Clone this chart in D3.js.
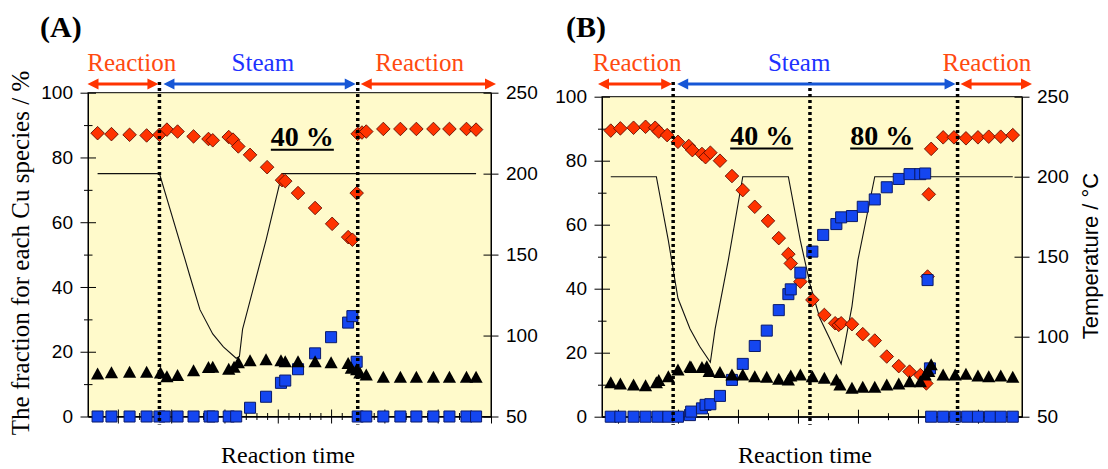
<!DOCTYPE html>
<html>
<head>
<meta charset="utf-8">
<script src="https://cdn.jsdelivr.net/npm/d3@7"></script>
<style>
    body { margin: 0; background: #fff; }
    svg { display: block; }
    .serif { font-family: "Liberation Serif", "Times New Roman", serif; }
    .sans { font-family: "Liberation Sans", Arial, sans-serif; }
</style>
</head>
<body>
<div id="chart"></div>
<script>
// ---- values ----
// x = reaction time (arbitrary units, one minor tick of panel A = 1)
// left axis: fraction of each Cu species / %, right axis: temperature / degC

const diamondA = [[-1.9,87.5],[-0.6,87.2],[1.1,87.0],[2.7,86.8],[3.9,87.0],[4.6,88.6],[5.6,88.0],[7.1,86.5],[8.5,85.7],
    [8.9,85.3],[10.4,86.3],[10.8,85.5],[11.3,83.4],[12.4,80.8],[14.0,77.0],[15.4,73.0],[15.7,72.7],[16.9,69.0],
    [18.5,64.4],[20.1,59.5],[21.6,55.4],[22.0,54.6],[22.4,69.0],[22.5,87.3],[22.9,87.7],[23.3,88.0],[24.9,88.8],
    [26.5,88.8],[28.0,88.8],[29.6,88.8],[31.1,88.8],[32.7,88.8],[33.6,88.6]];
const squareA = [[-1.9,0],[-0.6,0],[1.1,0],[2.7,0],[3.9,0],[4.4,0],[5.6,0],[7.1,0],[8.6,0],[8.9,0],[10.4,0],[11.1,0],
    [12.4,2.7],[13.9,6.1],[15.3,10.4],[15.7,11.1],[16.9,14.6],[18.5,19.5],[20.0,24.5],[21.6,29.0],[22.0,31.0],
    [22.4,16.9],[22.5,0],[23.3,0],[24.9,0],[26.5,0],[28.0,0],[29.6,0],[31.1,0],[32.7,0],[33.6,0]];
const triangleA = [[-1.9,13.1],[-0.6,13.5],[1.1,13.7],[2.7,13.7],[4.0,13.4],[4.6,12.3],[5.6,12.7],[7.1,14.1],[8.5,15.1],
    [8.9,15.2],[10.4,14.6],[10.9,15.2],[11.3,16.6],[12.4,17.2],[13.9,17.5],[15.3,17.2],[15.7,16.9],[16.9,16.9],
    [18.5,16.9],[20.0,16.6],[21.6,16.4],[21.9,14.9],[22.4,14.4],[22.7,13.4],[23.3,12.8],[24.9,12.1],[26.5,12.1],
    [28.0,12.1],[29.6,12.1],[31.1,12.1],[32.7,12.1],[33.6,12.1]];
const tempA = [[-1.9,200],[3.9,200],[6.3,147],[6.7,138],[7.7,116],[8.9,101],[9.9,93],[11.1,86],[11.4,87],[11.7,104],
    [13.9,159],[15.4,200],[33.6,200]];
const dottedA = [3.9, 22.5];
const phaseBreaksA = [3.9, 22.5];

const diamondB = [[-0.6,89.4],[0.2,90.1],[1.3,90.3],[2.3,90.6],[3.1,90.3],[3.4,89.1],[4.1,88.0],[5.0,85.9],[5.9,84.6],
    [6.2,83.3],[7.0,82.1],[7.3,81.1],[7.7,82.5],[8.5,80.0],[9.5,75.2],[10.4,70.8],[11.4,65.6],[12.5,61.2],[13.4,55.8],
    [14.2,50.8],[14.4,47.9],[15.2,42.2],[16.2,36.5],[17.2,31.8],[18.1,29.2],[18.4,28.7],[18.6,29.2],[19.5,28.9],
    [20.4,25.8],[21.4,23.8],[22.4,18.8],[23.4,15.8],[24.3,14.1],[25.2,13.0],[25.7,10.4],[25.8,43.8],[25.9,69.5],
    [26.1,83.7],[27.1,87.3],[28.0,87.3],[29.0,87.0],[30.0,87.3],[30.9,87.5],[31.9,87.5],[32.9,88.0]];
const squareB = [[-0.6,0],[0.2,0],[1.3,0],[2.3,0],[3.3,0],[4.2,0],[5.0,0],[6.0,0.5],[6.1,1.6],[7.0,2.6],[7.3,3.7],
    [7.7,3.9],[8.5,6.5],[9.5,11.5],[10.4,16.5],[11.4,22.1],[12.4,26.9],[13.4,33.3],[14.2,38.3],[14.4,39.8],[15.2,45.0],
    [16.2,51.6],[17.1,56.8],[18.2,60.2],[18.6,62.3],[19.5,62.7],[20.4,65.6],[21.4,67.9],[22.4,71.7],[23.4,74.3],
    [24.3,75.8],[25.2,75.8],[25.6,76.0],[25.8,42.7],[26.0,15.1],[26.1,0],[27.1,0],[28.1,0],[29.1,0],[30.0,0],
    [31.0,0],[31.9,0],[32.9,0]];
const triangleB = [[-0.6,10.6],[0.2,10.2],[1.3,9.9],[2.3,9.7],[3.2,10.6],[3.4,11.3],[4.2,12.5],[5.0,14.6],[6.0,15.6],
    [6.1,15.4],[7.0,15.4],[7.4,15.6],[7.6,14.1],[8.5,13.8],[9.5,13.0],[10.4,13.0],[11.4,12.5],[12.4,12.3],[13.4,11.7],
    [14.2,11.5],[14.4,12.7],[15.2,13.0],[16.2,12.5],[17.2,12.0],[18.2,11.5],[18.5,9.9],[19.5,8.9],[20.4,9.2],[21.4,9.2],
    [22.4,9.9],[23.4,10.2],[24.3,10.9],[25.2,10.9],[25.6,13.0],[25.9,14.1],[26.1,16.2],[27.1,13.0],[28.1,13.0],
    [29.0,13.3],[30.0,12.7],[30.9,12.5],[31.9,12.7],[32.9,12.3]];
const tempB = [[-0.6,200],[3.2,200],[4.2,160],[5.0,124],[6.0,105],[6.8,94],[7.7,84],[8.1,105],[9.2,148],[10.4,200],
    [14.2,200],[15.2,160],[16.0,133],[16.8,112],[17.7,98],[18.6,83],[19.5,119],[20.0,148],[21.4,200],[32.9,200]];
const dottedB = [4.6, 16.0, 28.3];
const phaseBreaksB = [4.6, 28.3];

const phaseNames = ["Reaction", "Steam", "Reaction"];
const phaseLabelXA = [1.3, 13.6, 28.3];
const phaseLabelXB = [1.6, 15.1, 30.75];
const notesA = [{text: "40 %", x: 14.35, y: 83.5}];
const notesB = [{text: "40 %", x: 9.35, y: 84.9}, {text: "80 %", x: 19.35, y: 84.9}];

const leftMajor = [0, 20, 40, 60, 80, 100];
const leftMinor = [10, 30, 50, 70, 90];
const rightTicks = [50, 100, 150, 200, 250];

// colours
const RED = "#FF3300", BLUE = "#1446F0", ARROW_BLUE = "#1656D6", TXT_RED = "#FF4A10", TXT_BLUE = "#1E32FF";

const svg = d3.select("#chart").append("svg")
    .attr("width", 1108)
    .attr("height", 469);

class PanelVis {
    constructor(_svg, _cfg) {
        this.svg = _svg;
        this.cfg = _cfg;
        this.initVis();
    }

    initVis() {
        let vis = this, c = vis.cfg;

        vis.x = d3.scaleLinear().domain(c.xDomain).range([c.left, c.right]);
        vis.yL = d3.scaleLinear().domain([0, 100]).range([c.bottom, c.top]);
        vis.yR = d3.scaleLinear().domain([50, 250]).range([c.bottom, c.top]);

        vis.g = vis.svg.append("g");

        // yellow plot area
        vis.g.append("rect")
            .attr("x", c.left).attr("y", c.top)
            .attr("width", c.right - c.left).attr("height", c.bottom - c.top)
            .attr("fill", "#FFFACB")
            .attr("stroke", "#000")
            .attr("stroke-width", 1);

        vis.drawAxes();
        vis.drawSeries();
        vis.drawPhases();
        vis.drawNotes();
    }

    drawAxes() {
        let vis = this, c = vis.cfg;

        let styleAxis = (g) => {
            g.select(".domain").attr("stroke", "#000");
            g.selectAll(".tick line").attr("stroke", "#000").attr("stroke-width", 1);
            g.selectAll(".tick text")
                .attr("class", "sans")
                .attr("font-size", 19)
                .attr("fill", "#000");
        };

        // x axis: major + minor ticks, no labels
        let xMajor = d3.range(0, c.xDomain[1] + 0.01, c.xMajor);
        let xMinor = d3.range(Math.ceil(c.xDomain[0] / c.xMinor) * c.xMinor, c.xDomain[1], c.xMinor)
            .filter(v => !xMajor.some(m => Math.abs(m - v) < 1e-6));

        let xMinorG = vis.g.append("g")
            .attr("transform", `translate(0,${c.bottom})`)
            .call(d3.axisBottom(vis.x).tickValues(xMinor).tickFormat("").tickSize(3.5).tickSizeOuter(0));
        styleAxis(xMinorG);
        xMinorG.selectAll(".tick line").attr("y1", -3.5);

        let xMajorG = vis.g.append("g")
            .attr("transform", `translate(0,${c.bottom})`)
            .call(d3.axisBottom(vis.x).tickValues(xMajor).tickFormat("").tickSize(7).tickSizeOuter(0));
        styleAxis(xMajorG);
        xMajorG.selectAll(".tick line").attr("y1", -7);

        // left axis
        let lMinor = vis.g.append("g")
            .attr("transform", `translate(${c.left},0)`)
            .call(d3.axisLeft(vis.yL).tickValues(leftMinor).tickFormat("").tickSize(4).tickSizeOuter(0));
        styleAxis(lMinor);
        lMinor.selectAll(".tick line").attr("x1", 4.5);

        let lMajor = vis.g.append("g")
            .attr("transform", `translate(${c.left},0)`)
            .call(d3.axisLeft(vis.yL).tickValues(leftMajor).tickSize(7.5).tickPadding(7.5).tickSizeOuter(0));
        styleAxis(lMajor);
        lMajor.selectAll(".tick line").attr("x1", 8);

        // right axis (temperature)
        let rAx = vis.g.append("g")
            .attr("transform", `translate(${c.right},0)`)
            .call(d3.axisRight(vis.yR).tickValues(rightTicks).tickSize(7.5).tickPadding(7.5).tickSizeOuter(0));
        styleAxis(rAx);
        rAx.selectAll(".tick line").attr("x1", -7.5);
    }

    drawSeries() {
        let vis = this, c = vis.cfg;

        // temperature on the secondary axis
        let line = d3.line()
            .x(d => vis.x(d[0]))
            .y(d => vis.yR(d[1]));

        vis.g.append("path")
            .datum(c.temp)
            .attr("d", line)
            .attr("fill", "none")
            .attr("stroke", "#111")
            .attr("stroke-width", 1.1);

        let diamond = d3.symbol().type(d3.symbolSquare).size(92);
        let square = d3.symbol().type(d3.symbolSquare).size(122);
        let tri = d3.symbol().type({
            draw(ctx) {
                ctx.moveTo(0, -6.5);
                ctx.lineTo(6.6, 5.5);
                ctx.lineTo(-6.6, 5.5);
                ctx.closePath();
            }
        });

        vis.g.append("g").selectAll("path")
            .data(c.diamond)
            .enter().append("path")
            .attr("d", diamond)
            .attr("transform", d => `translate(${vis.x(d[0])},${vis.yL(d[1])}) rotate(45)`)
            .attr("fill", RED)
            .attr("stroke", "#5a0a00")
            .attr("stroke-width", 0.8);

        vis.g.append("g").selectAll("path")
            .data(c.square)
            .enter().append("path")
            .attr("d", square)
            .attr("transform", d => `translate(${vis.x(d[0])},${vis.yL(d[1])})`)
            .attr("fill", BLUE)
            .attr("stroke", "#0a1a6a")
            .attr("stroke-width", 1);

        vis.g.append("g").selectAll("path")
            .data(c.triangle)
            .enter().append("path")
            .attr("d", tri)
            .attr("transform", d => `translate(${vis.x(d[0])},${vis.yL(d[1])})`)
            .attr("fill", "#000");

        // dotted boundaries between reaction / steam
        vis.g.append("g").selectAll("line")
            .data(c.dotted)
            .enter().append("line")
            .attr("x1", d => vis.x(d)).attr("x2", d => vis.x(d))
            .attr("y1", 82).attr("y2", c.bottom + 8)
            .attr("stroke", "#000")
            .attr("stroke-width", 3.5)
            .attr("stroke-dasharray", "3,3");
    }

    drawPhases() {
        let vis = this, c = vis.cfg;
        let ay = 84;
        let edges = [
            [vis.x.range()[0] + c.arrowPad[0], vis.x(c.breaks[0]) - 1],
            [vis.x(c.breaks[0]) + 4, vis.x(c.breaks[1]) - 2],
            [vis.x(c.breaks[1]) + 3, vis.x.range()[1] + c.arrowPad[1]]
        ];
        let cols = [RED, ARROW_BLUE, RED];
        let hl = 11, hw = 5.5;

        edges.forEach((e, i) => {
            vis.g.append("line")
                .attr("x1", e[0] + hl - 2).attr("x2", e[1] - hl + 2)
                .attr("y1", ay).attr("y2", ay)
                .attr("stroke", cols[i]).attr("stroke-width", 3);
            vis.g.append("path")
                .attr("d", `M${e[0]},${ay}L${e[0] + hl},${ay - hw}L${e[0] + hl},${ay + hw}Z`)
                .attr("fill", cols[i]);
            vis.g.append("path")
                .attr("d", `M${e[1]},${ay}L${e[1] - hl},${ay - hw}L${e[1] - hl},${ay + hw}Z`)
                .attr("fill", cols[i]);
        });

        phaseNames.forEach((name, i) => {
            vis.g.append("text")
                .attr("class", "serif")
                .attr("x", vis.x(c.phaseLabelX[i]))
                .attr("y", 71)
                .attr("text-anchor", "middle")
                .attr("font-size", 25)
                .attr("fill", i === 1 ? TXT_BLUE : TXT_RED)
                .text(name);
        });

        // panel letter
        vis.g.append("text")
            .attr("class", "serif")
            .attr("x", c.letterX)
            .attr("y", 37)
            .attr("font-size", 30)
            .attr("font-weight", "bold")
            .text(c.letter);

        // x title
        vis.g.append("text")
            .attr("class", "serif")
            .attr("x", c.xTitleX)
            .attr("y", 463)
            .attr("text-anchor", "middle")
            .attr("font-size", 24)
            .text("Reaction time");
    }

    drawNotes() {
        let vis = this, c = vis.cfg;
        c.notes.forEach(n => {
            let t = vis.g.append("text")
                .attr("class", "serif")
                .attr("x", vis.x(n.x))
                .attr("y", vis.yL(n.y))
                .attr("font-size", 28)
                .attr("font-weight", "bold")
                .text(n.text);
            let w = t.node().getComputedTextLength();
            vis.g.append("line")
                .attr("x1", vis.x(n.x)).attr("x2", vis.x(n.x) + w)
                .attr("y1", vis.yL(n.y) + 3.5).attr("y2", vis.yL(n.y) + 3.5)
                .attr("stroke", "#000").attr("stroke-width", 2);
        });
    }
}

new PanelVis(svg, {
    left: 88, right: 491, top: 92.7, bottom: 416.5,
    xDomain: [-2.8, 35], xMajor: 5, xMinor: 1,
    diamond: diamondA, square: squareA, triangle: triangleA, temp: tempA,
    dotted: dottedA, breaks: phaseBreaksA, phaseLabelX: phaseLabelXA, arrowPad: [-0.5, 5],
    notes: notesA, letter: "(A)", letterX: 40, xTitleX: 288
});

new PanelVis(svg, {
    left: 602, right: 1022, top: 96.7, bottom: 416.7,
    xDomain: [-1.33, 33.67], xMajor: 5, xMinor: 2.5,
    diamond: diamondB, square: squareB, triangle: triangleB, temp: tempB,
    dotted: dottedB, breaks: phaseBreaksB, phaseLabelX: phaseLabelXB, arrowPad: [-4, 10],
    notes: notesB, letter: "(B)", letterX: 566, xTitleX: 805
});

// axis titles
svg.append("text")
    .attr("class", "serif")
    .attr("transform", "translate(29,253) rotate(-90)")
    .attr("text-anchor", "middle")
    .attr("font-size", 25)
    .text("The fraction for each Cu species / %");

svg.append("text")
    .attr("class", "sans")
    .attr("transform", "translate(1098,256) rotate(-90)")
    .attr("text-anchor", "middle")
    .attr("font-size", 22)
    .text("Temperature / °C");
</script>
</body>
</html>
